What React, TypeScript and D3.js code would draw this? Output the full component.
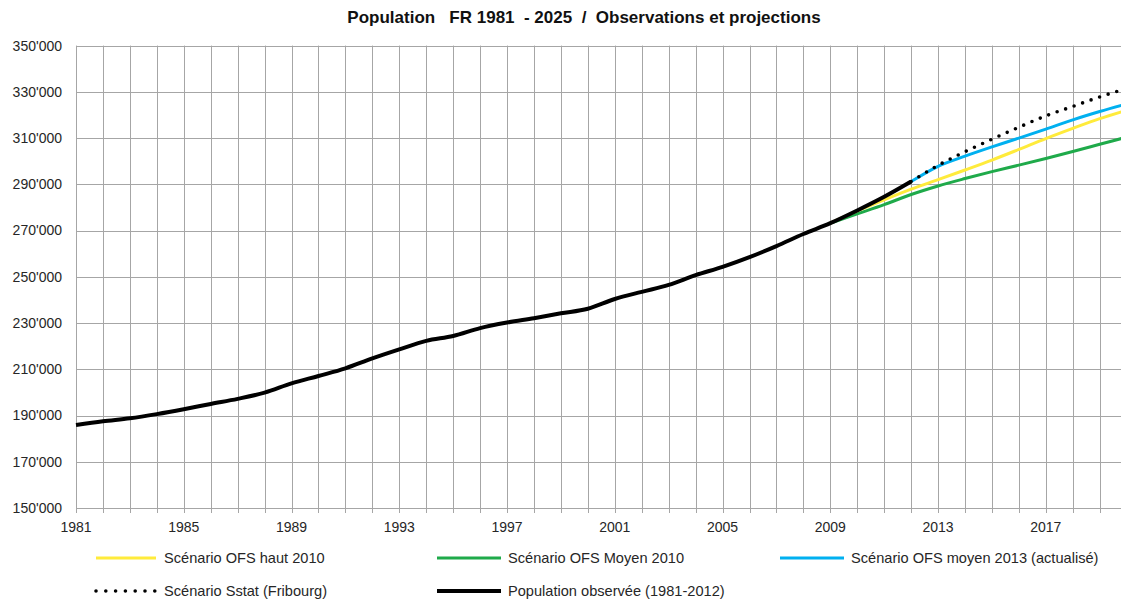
import React, { useEffect, useRef } from "react";
import * as d3 from "d3";

// observed population 1981 - 2012
const obsYears = d3.range(1981, 2013);
const observed = [
  185900, 187500, 188800, 190600, 192700, 195000, 197200, 199900, 203900, 207100,
  210400, 214700, 218600, 222300, 224400, 227800, 230200, 232100, 234200, 236200,
  240400, 243500, 246500, 250700, 254300, 258500, 263300, 268500, 273200, 278700,
  284600, 291200,
];

// projection scenarios
const projYears = d3.range(2009, 2021);
const ofsHaut2010 = [273200, 278500, 283300, 287900, 292000, 296200, 300500, 305100, 309800, 314200, 318400, 322000];
const ofsMoyen2010 = [273200, 277200, 281200, 285600, 289300, 292500, 295500, 298300, 301200, 304200, 307300, 310400];
const newYears = d3.range(2012, 2021);
const ofsMoyen2013 = [291200, 297800, 302200, 306200, 310000, 313900, 317900, 321500, 324800];
const sstat = [291200, 298200, 304100, 309500, 314700, 319600, 323700, 327800, 331500];

const yTicks = d3.range(150000, 350001, 20000);
const xLabelYears = [1981, 1985, 1989, 1993, 1997, 2001, 2005, 2009, 2013, 2017];

const legendItems = [
  { label: "Scénario OFS haut 2010", color: "#ffeb3b", dots: false, w: 3, col: 0, row: 0 },
  { label: "Scénario OFS Moyen 2010", color: "#1faa4a", dots: false, w: 3, col: 1, row: 0 },
  { label: "Scénario OFS moyen 2013 (actualisé)", color: "#00b0f0", dots: false, w: 3, col: 2, row: 0 },
  { label: "Scénario Sstat (Fribourg)", color: "#000", dots: true, w: 3.6, col: 0, row: 1 },
  { label: "Population observée (1981-2012)", color: "#000", dots: false, w: 4, col: 1, row: 1 },
];

const W = 1121;
const H = 600;
const font = "Arial, 'Liberation Sans', sans-serif";

const App = () => {
  const svgRef = useRef(null);

  useEffect(() => {
    document.body.style.margin = "0";
    const svg = d3.select(svgRef.current);
    svg.selectAll("*").remove();

    const left = 76;
    const top = 45.6;
    const bottom = 508;
    const yearW = 26.94;

    const x = d3.scaleLinear().domain([1981, 2020]).range([left, left + 39 * yearW]);
    const y = d3.scaleLinear().domain([150000, 350000]).range([bottom, top]);

    // title
    svg.append("text")
      .attr("x", 584)
      .attr("y", 23)
      .attr("text-anchor", "middle")
      .style("white-space", "pre")
      .style("font-family", font)
      .style("font-size", "17px")
      .style("font-weight", "bold")
      .attr("fill", "#111")
      .text("Population   FR 1981  - 2025  /  Observations et projections");

    const grid = svg.append("g").attr("stroke", "#a6a6a6").attr("stroke-width", 1);

    // vertical grid + ticks below axis
    grid.selectAll(".vg")
      .data(d3.range(1981, 2021))
      .enter()
      .append("line")
      .attr("x1", (d) => Math.round(x(d)) + 0.5)
      .attr("x2", (d) => Math.round(x(d)) + 0.5)
      .attr("y1", top)
      .attr("y2", bottom + 5);

    // horizontal grid
    grid.selectAll(".hg")
      .data(yTicks)
      .enter()
      .append("line")
      .attr("x1", left)
      .attr("x2", W)
      .attr("y1", (d) => Math.round(y(d)) + 0.5)
      .attr("y2", (d) => Math.round(y(d)) + 0.5);

    // y labels
    svg.append("g")
      .selectAll("text")
      .data(yTicks)
      .enter()
      .append("text")
      .attr("x", 62)
      .attr("y", (d) => y(d))
      .attr("dy", "0.35em")
      .attr("text-anchor", "end")
      .style("font-family", font)
      .style("font-size", "14px")
      .attr("fill", "#262626")
      .text((d) => d3.format("d")(d / 1000) + "'000");

    // x labels
    svg.append("g")
      .selectAll("text")
      .data(xLabelYears)
      .enter()
      .append("text")
      .attr("x", (d) => x(d))
      .attr("y", 527)
      .attr("dy", "0.35em")
      .attr("text-anchor", "middle")
      .style("font-family", font)
      .style("font-size", "14px")
      .attr("fill", "#262626")
      .text((d) => d);

    const line = (years) =>
      d3.line()
        .x((d, i) => x(years[i]))
        .y((d) => y(d))
        .curve(d3.curveMonotoneX);

    const plot = svg.append("g").attr("fill", "none").attr("stroke-linejoin", "round");

    plot.append("path")
      .attr("d", line(projYears)(ofsMoyen2010))
      .attr("stroke", "#1faa4a")
      .attr("stroke-width", 3);

    plot.append("path")
      .attr("d", line(projYears)(ofsHaut2010))
      .attr("stroke", "#ffeb3b")
      .attr("stroke-width", 3);

    plot.append("path")
      .attr("d", line(newYears)(ofsMoyen2013))
      .attr("stroke", "#00b0f0")
      .attr("stroke-width", 3);

    plot.append("path")
      .attr("d", line(newYears)(sstat))
      .attr("stroke", "#000")
      .attr("stroke-width", 3.6)
      .attr("stroke-linecap", "round")
      .attr("stroke-dasharray", "0 9");

    plot.append("path")
      .attr("d", line(obsYears)(observed))
      .attr("stroke", "#000")
      .attr("stroke-width", 4);

    // legend
    const colX = [96, 437, 780];
    const rowY = [558, 591];
    const lg = svg.append("g");
    legendItems.forEach((it) => {
      const lx = colX[it.col];
      const ly = rowY[it.row];
      const lw = it.col === 0 ? 60 : 64;
      lg.append("line")
        .attr("x1", lx)
        .attr("x2", lx + lw)
        .attr("y1", ly)
        .attr("y2", ly)
        .attr("stroke", it.color)
        .attr("stroke-width", it.w)
        .attr("stroke-linecap", it.dots ? "round" : "butt")
        .attr("stroke-dasharray", it.dots ? "0 9.8" : null);
      lg.append("text")
        .attr("x", lx + lw + (it.col === 0 ? 8 : 7))
        .attr("y", ly)
        .attr("dy", "0.35em")
        .style("font-family", font)
        .style("font-size", "14.6px")
        .attr("fill", "#262626")
        .text(it.label);
    });
  }, []);

  return <svg ref={svgRef} width={W} height={H} style={{ display: "block", background: "#fff" }}></svg>;
};

export default App;
